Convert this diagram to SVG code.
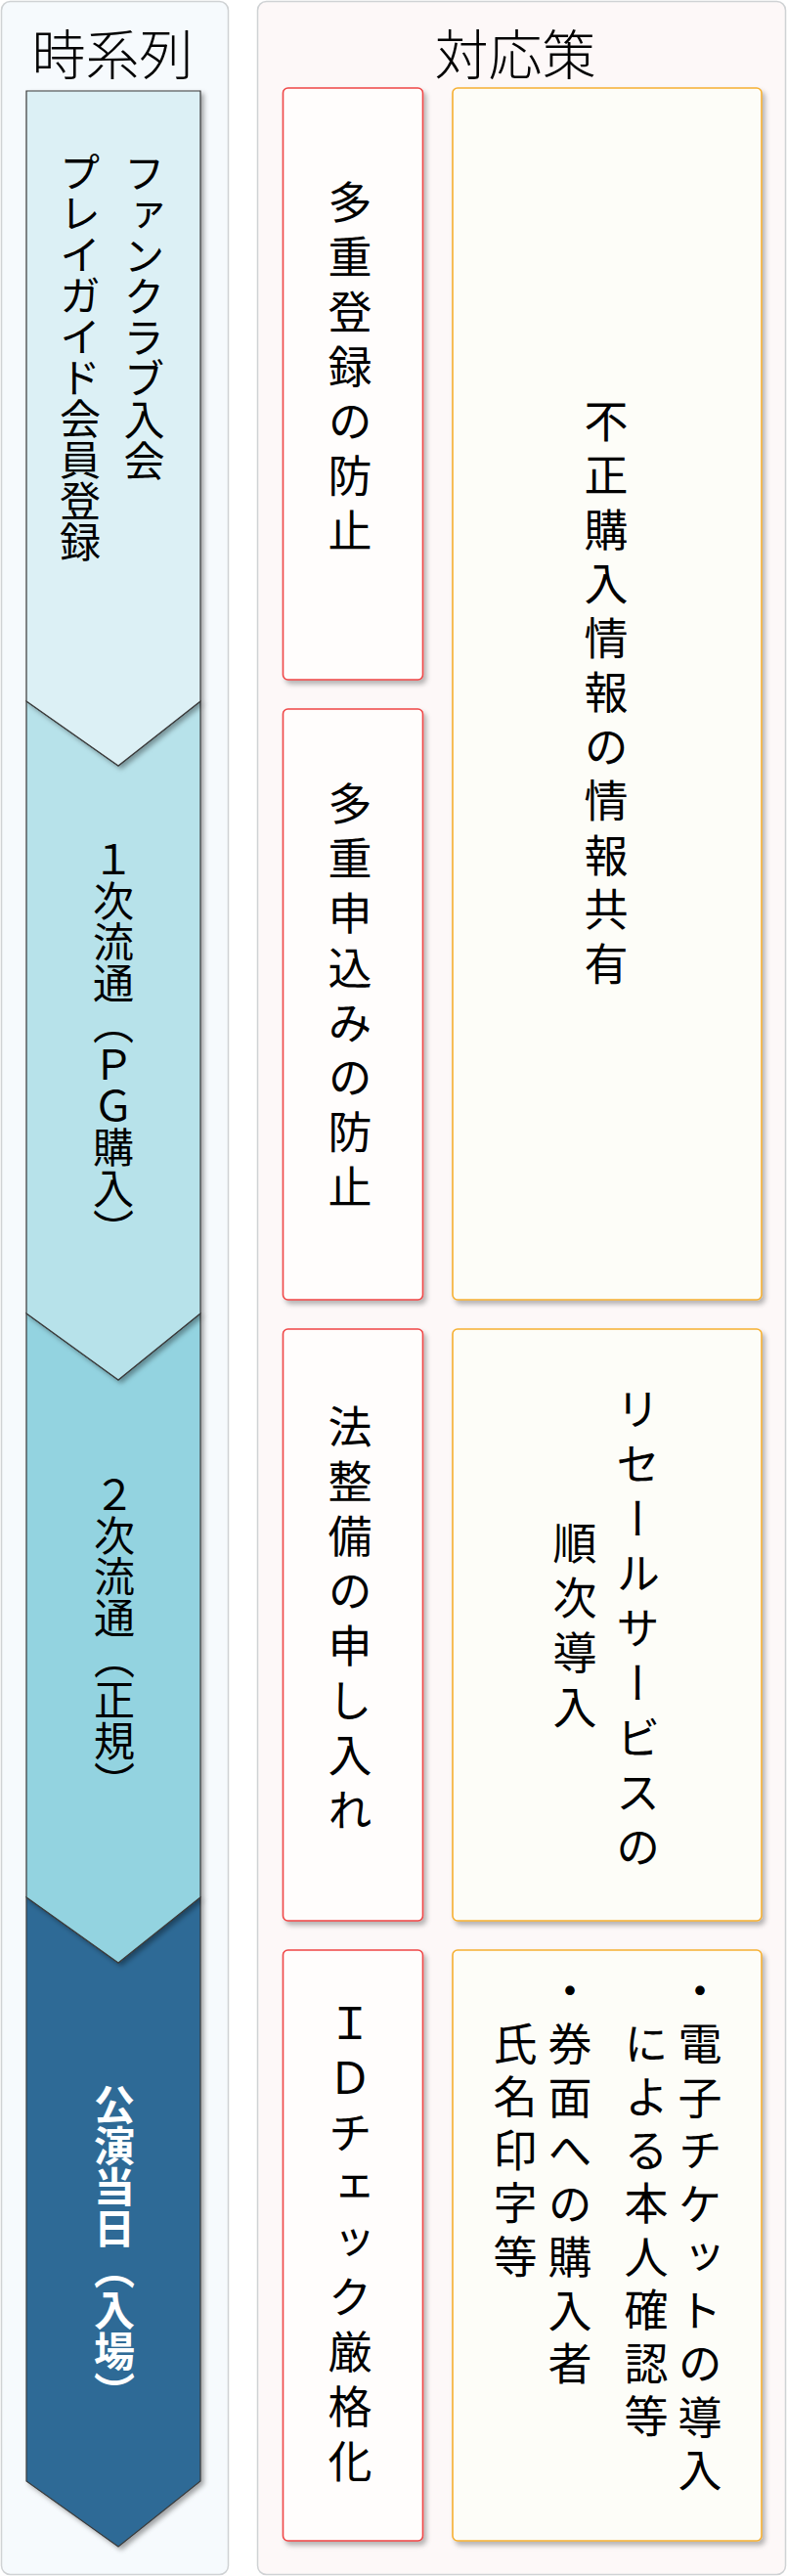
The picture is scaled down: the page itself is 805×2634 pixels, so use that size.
<svg xmlns="http://www.w3.org/2000/svg" width="805" height="2634" viewBox="0 0 805 2634">
<defs>
<filter id="sh" x="-20%" y="-20%" width="140%" height="140%">
<feDropShadow dx="3" dy="4" stdDeviation="2.5" flood-color="#000" flood-opacity="0.28"/>
</filter>
<filter id="sh2" x="-20%" y="-20%" width="140%" height="140%">
<feDropShadow dx="3" dy="3" stdDeviation="2.5" flood-color="#000" flood-opacity="0.35"/>
</filter>
</defs>
<style>
text { font-family: "Noto Sans CJK JP", "Noto Sans CJK SC", sans-serif; fill: #000; }
.title { font-size: 55px; text-anchor: middle; font-weight: 300; }
.v { writing-mode: vertical-rl; }
.lt { font-size: 42px; }
.lt.w { fill: #fff; font-weight: bold; }
.rt { font-size: 45px; letter-spacing: 11px; }
.rt2 { font-size: 45px; letter-spacing: 9.5px; }
.seg { stroke: #3a3a3a; stroke-width: 1.2; filter: url(#sh2); }
.red { fill: #fffdfc; stroke: #ef4646; stroke-width: 1.6; filter: url(#sh); }
.org { fill: #fdfdf8; stroke: #f6b032; stroke-width: 1.6; filter: url(#sh); }
</style>

<g id="panel-left">
<rect x="1.5" y="1.5" width="232" height="2631" rx="9" fill="#f6fafd" stroke="#cfd2d4" stroke-width="1.5"/>
<text class="title" x="115" y="76">時系列</text>
</g>
<g id="panel-right">
<rect x="263.5" y="1.5" width="540" height="2631" rx="9" fill="#fdf8f8" stroke="#cfd2d4" stroke-width="1.5"/>
<text class="title" x="527" y="76">対応策</text>
</g>

<g id="connectors"></g>

<g id="seg4">
<polygon class="seg" fill="#2e6b96" points="27,1940 121,2007 205,1940 205,2537 121,2604 27,2537"/>
<text class="v lt w" x="117" y="2131">公演当日（入場）</text>
</g>
<g id="seg3">
<polygon class="seg" fill="#93d3e0" points="27,1343 121,1411 205,1343 205,1940 121,2007 27,1940"/>
<text class="v lt" x="117" y="1507">２次流通（正規）</text>
</g>
<g id="seg2">
<polygon class="seg" fill="#b7e2ea" points="27,717 121,783 205,717 205,1343 121,1411 27,1343"/>
<text class="v lt" x="116" y="858">１次流通（ＰＧ購入）</text>
</g>
<g id="seg1">
<polygon class="seg" fill="#dcf0f5" points="27,93 205,93 205,717 121,783 27,717"/>
<text class="v lt" x="147.5" y="156">ファンクラブ入会</text>
<text class="v lt" x="82" y="155">プレイガイド会員登録</text>
</g>

<g id="red1">
<rect class="red" x="289.5" y="90" width="143" height="605" rx="5"/>
<text class="v rt" x="358" y="184">多重登録の防止</text>
</g>
<g id="red2">
<rect class="red" x="289.5" y="725" width="143" height="604" rx="5"/>
<text class="v rt" x="358" y="799">多重申込みの防止</text>
</g>
<g id="red3">
<rect class="red" x="289.5" y="1359" width="143" height="605" rx="5"/>
<text class="v rt" x="358" y="1436">法整備の申し入れ</text>
</g>
<g id="red4">
<rect class="red" x="289.5" y="1994" width="143" height="604" rx="5"/>
<text class="v rt" x="358" y="2046">ＩＤチェック厳格化</text>
</g>

<g id="orange1">
<rect class="org" x="463" y="90" width="316" height="1239" rx="5"/>
<text class="v rt" x="620" y="408" style="letter-spacing:10.5px">不正購入情報の情報共有</text>
</g>
<g id="orange2">
<rect class="org" x="463" y="1359" width="316" height="605" rx="5"/>
<text class="v rt" x="652.5" y="1418">リセールサービスの</text>
<text class="v rt" x="588" y="1555">順次導入</text>
</g>
<g id="orange3">
<rect class="org" x="463" y="1994" width="316" height="604" rx="5"/>
<text class="v rt2" x="716" y="2013">・電子チケットの導入</text>
<text class="v rt2" x="661" y="2067">による本人確認等</text>
<text class="v rt2" x="583" y="2013">・券面への購入者</text>
<text class="v rt2" x="527" y="2067">氏名印字等</text>
</g>
</svg>
